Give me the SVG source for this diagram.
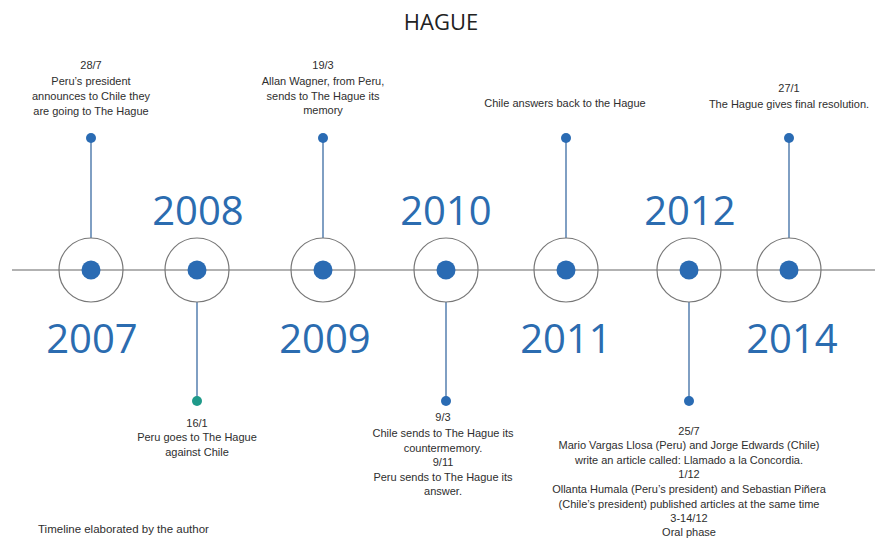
<svg xmlns="http://www.w3.org/2000/svg" width="875" height="538" viewBox="0 0 875 538">
<style>
.bg{fill:#ffffff}
.title{font-family:"Open Sans","Liberation Sans",sans-serif;font-size:22px;fill:#222;text-anchor:middle}
.year{font-family:"Open Sans","Liberation Sans",sans-serif;font-size:40px;fill:#2b6cb0;text-anchor:middle}
.lbl{font-family:"Liberation Sans","Open Sans",sans-serif;font-size:11px;fill:#2e2e2e;text-anchor:middle}
.note{font-family:"Liberation Sans","Open Sans",sans-serif;font-size:11.5px;fill:#2e2e2e}
.ring{fill:none;stroke:#777;stroke-width:1.2}
.core{fill:#2a6bb3}
.pin{fill:#2a6bb3}
.pinT{fill:#1f9a8a}
.axis{stroke:#999;stroke-width:1.5}
.stem{stroke:#7295bd;stroke-width:1.8}
</style>
<rect class="bg" x="0" y="0" width="875" height="538"/>
<text class="title" x="441" y="30">HAGUE</text>
<g id="connectors">
<line class="axis" x1="12" y1="270" x2="875" y2="270"/>
<line class="stem" x1="91" y1="138" x2="91" y2="238"/>
<line class="stem" x1="197" y1="302" x2="197" y2="401"/>
<line class="stem" x1="323" y1="138" x2="323" y2="238"/>
<line class="stem" x1="446" y1="302" x2="446" y2="401"/>
<line class="stem" x1="566" y1="138" x2="566" y2="238"/>
<line class="stem" x1="689" y1="302" x2="689" y2="401"/>
<line class="stem" x1="789" y1="138" x2="789" y2="238"/>
</g>
<g id="node-2007">
<circle class="ring" cx="91" cy="270" r="32"/>
<circle class="core" cx="91" cy="270" r="9.5"/>
<circle class="pin" cx="91" cy="138" r="5"/>
<text class="year" x="92" y="353">2007</text>
<text class="lbl" x="91" y="69">28/7</text>
<text class="lbl" x="91" y="85">Peru’s president</text>
<text class="lbl" x="91" y="100">announces to Chile they</text>
<text class="lbl" x="91" y="115">are going to The Hague</text>
</g>
<g id="node-2008">
<circle class="ring" cx="197" cy="270" r="32"/>
<circle class="core" cx="197" cy="270" r="9.5"/>
<circle class="pinT" cx="197" cy="401" r="5"/>
<text class="year" x="198" y="225">2008</text>
<text class="lbl" x="197" y="426.5">16/1</text>
<text class="lbl" x="197" y="441">Peru goes to The Hague</text>
<text class="lbl" x="197" y="456">against Chile</text>
</g>
<g id="node-2009">
<circle class="ring" cx="323" cy="270" r="32"/>
<circle class="core" cx="323" cy="270" r="9.5"/>
<circle class="pin" cx="323" cy="138" r="5"/>
<text class="year" x="325" y="353">2009</text>
<text class="lbl" x="323" y="69">19/3</text>
<text class="lbl" x="323" y="85">Allan Wagner, from Peru,</text>
<text class="lbl" x="323" y="100">sends to The Hague its</text>
<text class="lbl" x="323" y="114">memory</text>
</g>
<g id="node-2010">
<circle class="ring" cx="446" cy="270" r="32"/>
<circle class="core" cx="446" cy="270" r="9.5"/>
<circle class="pin" cx="446" cy="401" r="5"/>
<text class="year" x="446" y="225">2010</text>
<text class="lbl" x="443" y="421">9/3</text>
<text class="lbl" x="443" y="437">Chile sends to The Hague its</text>
<text class="lbl" x="443" y="451.5">countermemory.</text>
<text class="lbl" x="443" y="465.5">9/11</text>
<text class="lbl" x="443" y="480.5">Peru sends to The Hague its</text>
<text class="lbl" x="443" y="495">answer.</text>
</g>
<g id="node-2011">
<circle class="ring" cx="566" cy="270" r="32"/>
<circle class="core" cx="566" cy="270" r="9.5"/>
<circle class="pin" cx="566" cy="138" r="5"/>
<text class="year" x="566" y="353">2011</text>
<text class="lbl" x="565" y="107">Chile answers back to the Hague</text>
</g>
<g id="node-2012">
<circle class="ring" cx="689" cy="270" r="32"/>
<circle class="core" cx="689" cy="270" r="9.5"/>
<circle class="pin" cx="689" cy="401" r="5"/>
<text class="year" x="690" y="225">2012</text>
<text class="lbl" x="689" y="434.5">25/7</text>
<text class="lbl" x="689" y="449">Mario Vargas Llosa (Peru) and Jorge Edwards (Chile)</text>
<text class="lbl" x="689" y="464">write an article called: Llamado a la Concordia.</text>
<text class="lbl" x="689" y="477.5">1/12</text>
<text class="lbl" x="689" y="493">Ollanta Humala (Peru’s president) and Sebastian Piñera</text>
<text class="lbl" x="689" y="507.5">(Chile’s president) published articles at the same time</text>
<text class="lbl" x="689" y="521.5">3-14/12</text>
<text class="lbl" x="689" y="536">Oral phase</text>
</g>
<g id="node-2014">
<circle class="ring" cx="789" cy="270" r="32"/>
<circle class="core" cx="789" cy="270" r="9.5"/>
<circle class="pin" cx="789" cy="138" r="5"/>
<text class="year" x="792" y="353">2014</text>
<text class="lbl" x="789" y="92">27/1</text>
<text class="lbl" x="789" y="108">The Hague gives final resolution.</text>
</g>
<text class="note" x="38" y="533">Timeline elaborated by the author</text>
</svg>
